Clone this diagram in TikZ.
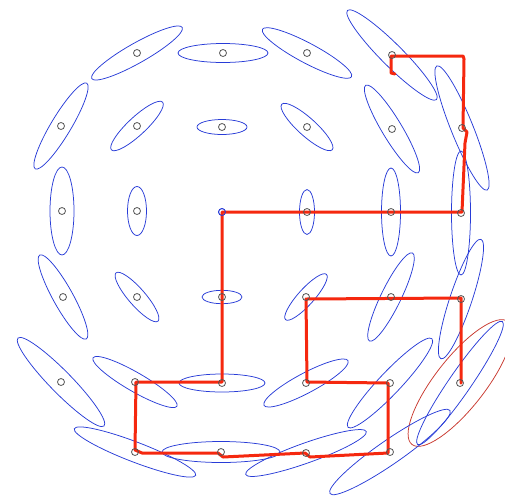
\documentclass[tikz,border=0pt]{standalone}
\definecolor{covblue}{RGB}{40,60,215}
\definecolor{trajred}{RGB}{245,40,15}
\definecolor{lastred}{RGB}{200,55,45}
\definecolor{posegray}{RGB}{85,85,85}
\tikzset{
  cov/.style={draw=covblue, line width=0.75pt},
  covlast/.style={draw=lastred, line width=0.75pt},
  traj/.style={draw=trajred, line width=3pt, line join=round, line cap=round},
  pose/.style={draw=posegray, line width=0.8pt},
}
\begin{document}
\begin{tikzpicture}[x=1pt,y=-1pt]
\useasboundingbox (0,0) rectangle (505,496);
\clip (0,0) rectangle (505,496);
% pose coordinates
\coordinate (a2) at (137,53);
\coordinate (a3) at (223,53);
\coordinate (a4) at (307,53);
\coordinate (a5) at (392,55);
\coordinate (b1) at (61,126);
\coordinate (b2) at (137,126);
\coordinate (b3) at (222,127);
\coordinate (b4) at (307,127);
\coordinate (b5) at (392,129);
\coordinate (b6) at (462,128);
\coordinate (c1) at (62,211);
\coordinate (c2) at (137,211);
\coordinate (c3) at (222,212);
\coordinate (c4) at (307,212);
\coordinate (c5) at (391,212);
\coordinate (c6) at (461,213);
\coordinate (d1) at (63,297);
\coordinate (d2) at (137,297);
\coordinate (d3) at (222,297);
\coordinate (d4) at (306,297);
\coordinate (d5) at (391,297);
\coordinate (d6) at (461,299);
\coordinate (e1) at (61,382);
\coordinate (e2) at (135,382);
\coordinate (e3) at (222,383);
\coordinate (e4) at (306,383);
\coordinate (e5) at (390,383);
\coordinate (e6) at (460,383);
\coordinate (f2) at (135,452);
\coordinate (f3) at (221,452);
\coordinate (f4) at (306,453);
\coordinate (f5) at (390,452);
% covariance ellipses
\draw[cov, rotate around={29.5:(a2)}] (a2) ellipse[x radius=52pt, y radius=10pt];
\draw[cov] (a3) ellipse[x radius=45pt, y radius=9.5pt];
\draw[cov, rotate around={-28:(a4)}] (a4) ellipse[x radius=50.5pt, y radius=10pt];
\draw[cov, rotate around={-45:(a5)}] (a5) ellipse[x radius=63pt, y radius=11pt];
\draw[cov, rotate around={59:(b1)}] (b1) ellipse[x radius=50pt, y radius=10pt];
\draw[cov, rotate around={43:(b2)}] (b2) ellipse[x radius=35pt, y radius=9pt];
\draw[cov] (b3) ellipse[x radius=25pt, y radius=7.5pt];
\draw[cov, rotate around={-42:(b4)}] (b4) ellipse[x radius=34pt, y radius=9pt];
\draw[cov, rotate around={-59:(b5)}] (b5) ellipse[x radius=51pt, y radius=10pt];
\draw[cov, rotate around={-68:(b6)}] (b6) ellipse[x radius=67pt, y radius=11pt];
\draw[cov] (c1) ellipse[x radius=12pt, y radius=44pt];
\draw[cov] (c2) ellipse[x radius=9.5pt, y radius=24.5pt];
\draw[cov] (c3) circle[radius=3.5pt];
\draw[cov] (c4) ellipse[x radius=7.5pt, y radius=22.5pt];
\draw[cov] (c5) ellipse[x radius=9.5pt, y radius=44pt];
\draw[cov] (c6) ellipse[x radius=9.5pt, y radius=62pt];
\draw[cov, rotate around={-61:(d1)}] (d1) ellipse[x radius=48pt, y radius=10pt];
\draw[cov, rotate around={-49:(d2)}] (d2) ellipse[x radius=32pt, y radius=8.5pt];
\draw[cov] (d3) ellipse[x radius=20pt, y radius=6.7pt];
\draw[cov, rotate around={48:(d4)}] (d4) ellipse[x radius=30.5pt, y radius=8pt];
\draw[cov, rotate around={64:(d5)}] (d5) ellipse[x radius=49pt, y radius=10pt];
\draw[cov, rotate around={71.5:(d6)}] (d6) ellipse[x radius=63pt, y radius=11pt];
\draw[cov, rotate around={-45.6:(e1)}] (e1) ellipse[x radius=61.5pt, y radius=11pt];
\draw[cov, rotate around={-30:(e2)}] (e2) ellipse[x radius=48.4pt, y radius=9.5pt];
\draw[cov] (e3) ellipse[x radius=43pt, y radius=9pt];
\draw[cov, rotate around={28:(e4)}] (e4) ellipse[x radius=47.6pt, y radius=10pt];
\draw[cov, rotate around={46.6:(e5)}] (e5) ellipse[x radius=61pt, y radius=11pt];
\draw[cov, rotate around={55.4:(e6)}] (e6) ellipse[x radius=74.7pt, y radius=11pt];
\draw[covlast, rotate around={52:(e6)}] (e6) ellipse[x radius=78pt, y radius=25pt];
\draw[cov, rotate around={-21:(f2)}] (f2) ellipse[x radius=65pt, y radius=10pt];
\draw[cov] (f3) ellipse[x radius=59pt, y radius=10.5pt];
\draw[cov, rotate around={19.6:(f4)}] (f4) ellipse[x radius=64pt, y radius=10pt];
\draw[cov, rotate around={34.7:(f5)}] (f5) ellipse[x radius=73pt, y radius=12pt];
% trajectory
\draw[traj] (395,74) -- (391,73) -- (391,56) -- (463,56) -- (464,59) -- (463,128)
  -- (467,132) -- (465,143) -- (462,212) -- (391,212) -- (307,212) -- (222,212)
  -- (222,297) -- (222,382) -- (136,382) -- (135,450) -- (142,453) -- (218,453)
  -- (223,457) -- (305,453) -- (310,457) -- (388,453) -- (388,383) -- (307,382)
  -- (306,299) -- (461,298) -- (461,383);
% pose markers
\foreach \p in {a2,a3,a4,a5,b1,b2,b3,b4,b5,b6,c1,c2,c4,c5,c6,d1,d2,d3,d4,d5,d6,e1,e2,e3,e4,e5,e6,f2,f3,f4,f5}
  \draw[pose] (\p) circle[radius=3.5pt];
\draw[cov] (c3) circle[radius=3.5pt];
\end{tikzpicture}
\end{document}
